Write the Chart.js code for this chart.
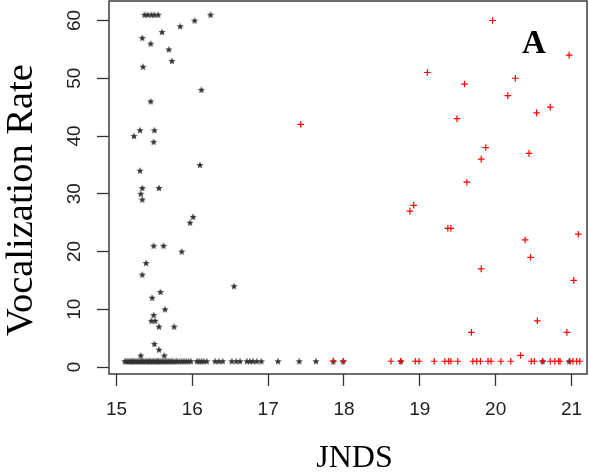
<!DOCTYPE html>
<html>
<head>
<meta charset="utf-8">
<script src="https://cdn.jsdelivr.net/npm/chart.js@4/dist/chart.umd.min.js"></script>
<style>
  html, body { margin: 0; padding: 0; background: #ffffff; }
  canvas { display: block; }
</style>
</head>
<body>
<canvas id="chart" width="589" height="473"></canvas>
<script>
// JND score against vocalization rate for two groups of subjects.

// Group drawn with asterisks
const starJnds = [
  15.37, 15.41, 15.46, 15.50, 15.55, 16.24, 16.03, 15.84, 15.60, 15.34,
  15.45, 15.69, 15.73, 15.35, 16.12, 15.45, 15.31, 15.50, 15.23, 15.49,
  16.10, 15.31, 15.34, 15.56, 15.32, 15.34, 16.01, 15.97, 15.49, 15.62,
  15.86, 15.39, 15.34, 16.55, 15.58, 15.47, 15.64, 15.49, 15.46, 15.51,
  15.56, 15.76, 15.50, 15.56, 15.32, 15.63,
  15.11, 15.13, 15.15, 15.17, 15.19, 15.21, 15.22, 15.24, 15.26, 15.28,
  15.30, 15.32, 15.33, 15.35, 15.37, 15.39, 15.41, 15.43, 15.44, 15.46,
  15.48, 15.50, 15.52, 15.54, 15.55, 15.57, 15.59, 15.61, 15.63, 15.65,
  15.67, 15.69, 15.71, 15.73, 15.75, 15.78, 15.80, 15.83, 15.86, 15.89,
  15.92, 15.95, 15.98, 16.06, 16.09, 16.12, 16.15, 16.19, 16.30, 16.35,
  16.40, 16.52, 16.58, 16.63, 16.72, 16.76, 16.80, 16.85, 16.91, 17.13,
  17.41, 17.63, 17.86, 17.99, 18.75, 20.62, 20.97
];
const starRate = [
  61, 61, 61, 61, 61, 61, 60, 59, 58, 57,
  56, 55, 53, 52, 48, 46, 41, 41, 40, 39,
  35, 34, 31, 31, 30, 29, 26, 25, 21, 21,
  20, 18, 16, 14, 13, 12, 10, 9, 8, 8,
  7, 7, 4, 3, 2, 2,
  1, 1, 1, 1, 1, 1, 1, 1, 1, 1,
  1, 1, 1, 1, 1, 1, 1, 1, 1, 1,
  1, 1, 1, 1, 1, 1, 1, 1, 1, 1,
  1, 1, 1, 1, 1, 1, 1, 1, 1, 1,
  1, 1, 1, 1, 1, 1, 1, 1, 1, 1,
  1, 1, 1, 1, 1, 1, 1, 1, 1, 1,
  1, 1, 1, 1, 1, 1, 1
];

// Group drawn with red plus signs
const plusJnds = [
  17.43, 19.96, 20.97, 19.10, 20.26, 19.59, 20.16, 20.72, 20.54, 19.49,
  19.87, 20.44, 19.81, 19.62, 18.92, 18.87, 19.37, 19.41, 21.09, 20.39,
  20.46, 19.81, 21.03, 20.55, 19.68, 20.94, 20.33,
  17.86, 17.99, 18.62, 18.75, 18.94, 18.99, 19.19, 19.33, 19.38, 19.41,
  19.50, 19.70, 19.75, 19.80, 19.90, 19.94, 20.07, 20.20, 20.47, 20.51,
  20.62, 20.72, 20.78, 20.83, 20.85, 20.98, 21.02, 21.07, 21.11
];
const plusRate = [
  42, 60, 54, 51, 50, 49, 47, 45, 44, 43,
  38, 37, 36, 32, 28, 27, 24, 24, 23, 22,
  19, 17, 15, 8, 6, 6, 2,
  1, 1, 1, 1, 1, 1, 1, 1, 1, 1,
  1, 1, 1, 1, 1, 1, 1, 1, 1, 1,
  1, 1, 1, 1, 1, 1, 1, 1, 1
];

const xTickValues = [15, 16, 17, 18, 19, 20, 21];
const yTickValues = [0, 10, 20, 30, 40, 50, 60];
const xTitle = 'JNDS';
const yTitle = 'Vocalization Rate';
const panelTag = 'A';

const xRange = { min: 14.901, max: 21.205 };
const yRange = { min: -1.212, max: 63.377 };

const toPoints = (xs, ys) => xs.map((x, i) => ({ x: x, y: ys[i] }));

// Small filled five-pointed star used as the asterisk marker
function makeStar() {
  const c = document.createElement('canvas');
  c.width = 8; c.height = 8;
  const g = c.getContext('2d');
  g.fillStyle = '#333333';
  g.beginPath();
  for (let k = 0; k < 10; k++) {
    const r = k % 2 === 0 ? 3.8 : 1.6;
    const a = -Math.PI / 2 + k * Math.PI / 5;
    const px = 4 + r * Math.cos(a), py = 4.3 + r * Math.sin(a);
    if (k === 0) g.moveTo(px, py); else g.lineTo(px, py);
  }
  g.closePath();
  g.fill();
  return c;
}

const tickFont = { family: '"Liberation Sans", Arial, sans-serif', size: 19 };

// Keep the plot region fixed: no extra room reserved for edge labels
function fixAxisSize(s, size) {
  if (s.isHorizontal()) s.height = size; else s.width = size;
  s.paddingTop = 0; s.paddingBottom = 0; s.paddingLeft = 0; s.paddingRight = 0;
}

// Frame around the plot region, axis titles and the panel letter
const frameAndLabels = {
  id: 'frameAndLabels',
  afterDraw(chart) {
    const { ctx, chartArea: a } = chart;
    ctx.save();
    ctx.strokeStyle = '#3c3c3c';
    ctx.lineWidth = 1.5;
    ctx.strokeRect(a.left, a.top, a.right - a.left, a.bottom - a.top);

    ctx.fillStyle = '#000000';
    ctx.textAlign = 'center';
    ctx.textBaseline = 'middle';
    ctx.font = '32px "Liberation Serif", "Times New Roman", serif';
    ctx.fillText(xTitle, 354.5, 459);

    ctx.save();
    ctx.translate(21.5, 200);
    ctx.rotate(-Math.PI / 2);
    ctx.font = '38.5px "Liberation Serif", "Times New Roman", serif';
    ctx.fillText(yTitle, 0, 0);
    ctx.restore();

    ctx.font = 'bold 33px "Liberation Serif", "Times New Roman", serif';
    ctx.fillText(panelTag, 534, 44);
    ctx.restore();
  }
};

new Chart(document.getElementById('chart'), {
  type: 'scatter',
  data: {
    datasets: [
      {
        label: 'plus',
        data: toPoints(plusJnds, plusRate),
        pointStyle: 'cross',
        pointRadius: 3.3,
        borderColor: '#ff0000',
        backgroundColor: '#ff0000',
        pointBorderWidth: 1.2,
        order: 0
      },
      {
        label: 'star',
        data: toPoints(starJnds, starRate),
        pointStyle: makeStar(),
        pointRadius: 3.5,
        borderColor: '#333333',
        backgroundColor: '#333333',
        order: 1
      }
    ]
  },
  options: {
    responsive: false,
    animation: false,
    devicePixelRatio: 1,
    layout: { autoPadding: false, padding: { left: 0, right: 2, top: 1, bottom: 0 } },
    plugins: { legend: { display: false }, tooltip: { enabled: false } },
    scales: {
      x: {
        type: 'linear',
        min: xRange.min,
        max: xRange.max,
        afterFit(s) { fixAxisSize(s, 99); },
        afterBuildTicks(s) { s.ticks = xTickValues.map(v => ({ value: v })); },
        grid: { display: true, drawOnChartArea: false, drawTicks: true, tickLength: 12, tickColor: '#333333', tickWidth: 1.3 },
        border: { display: false },
        ticks: {
          autoSkip: false, minRotation: 0, maxRotation: 0, padding: 12.5,
          font: tickFont, color: '#222222',
          callback: v => String(v)
        }
      },
      y: {
        type: 'linear',
        min: yRange.min,
        max: yRange.max,
        afterFit(s) { fixAxisSize(s, 109); },
        afterBuildTicks(s) { s.ticks = yTickValues.map(v => ({ value: v })); },
        grid: { display: true, drawOnChartArea: false, drawTicks: true, tickLength: 12, tickColor: '#333333', tickWidth: 1.3 },
        border: { display: false },
        ticks: {
          autoSkip: false, minRotation: 90, maxRotation: 90, crossAlign: 'center', padding: 11.4,
          font: tickFont, color: '#222222',
          callback: v => String(v)
        }
      }
    }
  },
  plugins: [frameAndLabels]
});
</script>
</body>
</html>
